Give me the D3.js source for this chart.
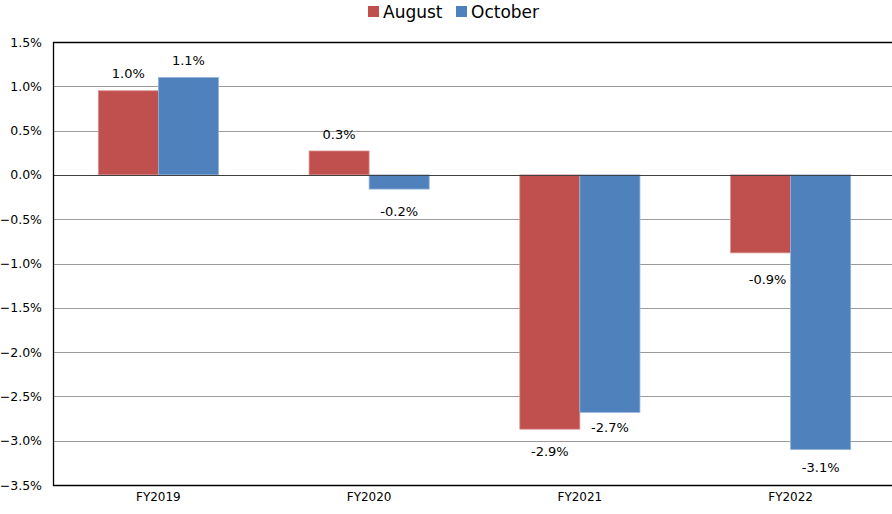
<!DOCTYPE html>
<html>
<head>
<meta charset="utf-8">
<script src="https://cdn.jsdelivr.net/npm/d3@7"></script>
<style>
  html, body { margin: 0; padding: 0; background: #fff; }
  svg { display: block; font-family: "DejaVu Sans", sans-serif; }
</style>
</head>
<body>
<svg id="chart" width="892" height="514"></svg>
<script>
const categories = ["FY2019", "FY2020", "FY2021", "FY2022"];
const seriesNames = ["August", "October"];
const august = [0.95, 0.27, -2.87, -0.88];
const october = [1.10, -0.16, -2.68, -3.10];
const augustLabels = ["1.0%", "0.3%", "-2.9%", "-0.9%"];
const octoberLabels = ["1.1%", "-0.2%", "-2.7%", "-3.1%"];
const yTicks = [1.5, 1.0, 0.5, 0.0, -0.5, -1.0, -1.5, -2.0, -2.5, -3.0, -3.5];

const colors = { August: "#C0504D", October: "#4F81BD" };
const edge = { August: "#D99694", October: "#95B3D7" };
// label nudges (style): [dx, dy] per bar, px
const labelNudge = {
  August: [[0, 0], [0, 0], [0, 4], [7, 9]],
  October: [[0, 0], [0, 4], [0, -3], [0, 0]]
};

const svg = d3.select("#chart");
const margin = { left: 53, top: 42, right: -4, bottom: 29 };
const W = 892, H = 514;

const x = d3.scaleBand().domain(categories)
  .range([margin.left, W - margin.right]).paddingInner(0.43).paddingOuter(0.215);
const xs = d3.scaleBand().domain(seriesNames).range([0, x.bandwidth()]);
const y = d3.scaleLinear().domain([-3.5, 1.5]).range([H - margin.bottom, margin.top]);

const data = categories.map((c, i) => ({
  cat: c,
  vals: [
    { name: "August", v: august[i], label: augustLabels[i], nudge: labelNudge.August[i] },
    { name: "October", v: october[i], label: octoberLabels[i], nudge: labelNudge.October[i] }
  ]
}));

// gridlines
svg.append("g").selectAll("line").data(yTicks.filter(t => t !== 0 && t !== 1.5 && t !== -3.5))
  .join("line")
  .attr("x1", margin.left).attr("x2", W)
  .attr("y1", d => Math.round(y(d)) + 0.5).attr("y2", d => Math.round(y(d)) + 0.5)
  .attr("stroke", "#9a9a9a").attr("stroke-width", 1);

// y axis labels
const yAxis = d3.axisLeft(y).tickValues(yTicks).tickSize(0).tickPadding(11)
  .tickFormat(d => d3.format(".1f")(d) + "%");
const ya = svg.append("g").attr("transform", `translate(${margin.left},0)`).call(yAxis);
ya.select(".domain").remove();
ya.selectAll("text").attr("font-size", 12.5).attr("fill", "#000")
  .attr("font-family", "DejaVu Sans, sans-serif");

// bars
const g = svg.append("g").selectAll("g").data(data).join("g")
  .attr("transform", d => `translate(${x(d.cat)},0)`);
g.selectAll("rect").data(d => d.vals).join("rect")
  .attr("x", d => xs(d.name))
  .attr("width", xs.bandwidth())
  .attr("y", d => Math.min(y(d.v), y(0)))
  .attr("height", d => Math.abs(y(d.v) - y(0)))
  .attr("fill", d => colors[d.name])
  .attr("stroke", d => edge[d.name]).attr("stroke-width", 0.8);

// value labels
g.selectAll("text").data(d => d.vals).join("text")
  .attr("x", d => xs(d.name) + xs.bandwidth() / 2 + d.nudge[0])
  .attr("y", d => d.v >= 0 ? y(d.v) - 17 + d.nudge[1] : y(d.v) + 18 + d.nudge[1])
  .attr("dy", "0.35em")
  .attr("text-anchor", "middle")
  .attr("font-size", 13).attr("fill", "#000")
  .text(d => d.label);

// zero line
svg.append("line").attr("x1", margin.left).attr("x2", W)
  .attr("y1", Math.round(y(0)) + 0.5).attr("y2", Math.round(y(0)) + 0.5)
  .attr("stroke", "#404040").attr("stroke-width", 1);

// frame
svg.append("path")
  .attr("d", `M${W},${margin.top + 0.5} H${margin.left + 0.5} V${H - margin.bottom + 0.5} H${W}`)
  .attr("fill", "none").attr("stroke", "#000").attr("stroke-width", 1.3);

// x axis labels
const xa = svg.append("g").attr("transform", `translate(0,${H - margin.bottom})`)
  .call(d3.axisBottom(x).tickSize(0).tickPadding(7));
xa.select(".domain").remove();
xa.selectAll("text").attr("font-size", 12).attr("fill", "#000")
  .attr("font-family", "DejaVu Sans, sans-serif");

// legend
const legend = svg.append("g");
const legendPos = [368, 456];
seriesNames.forEach((n, i) => {
  legend.append("rect").attr("x", legendPos[i]).attr("y", 6).attr("width", 11).attr("height", 11)
    .attr("fill", colors[n]);
  legend.append("text").attr("x", legendPos[i] + 15).attr("y", 12).attr("dy", "0.35em")
    .attr("font-size", 17).attr("fill", "#000").text(n);
});
</script>
</body>
</html>
